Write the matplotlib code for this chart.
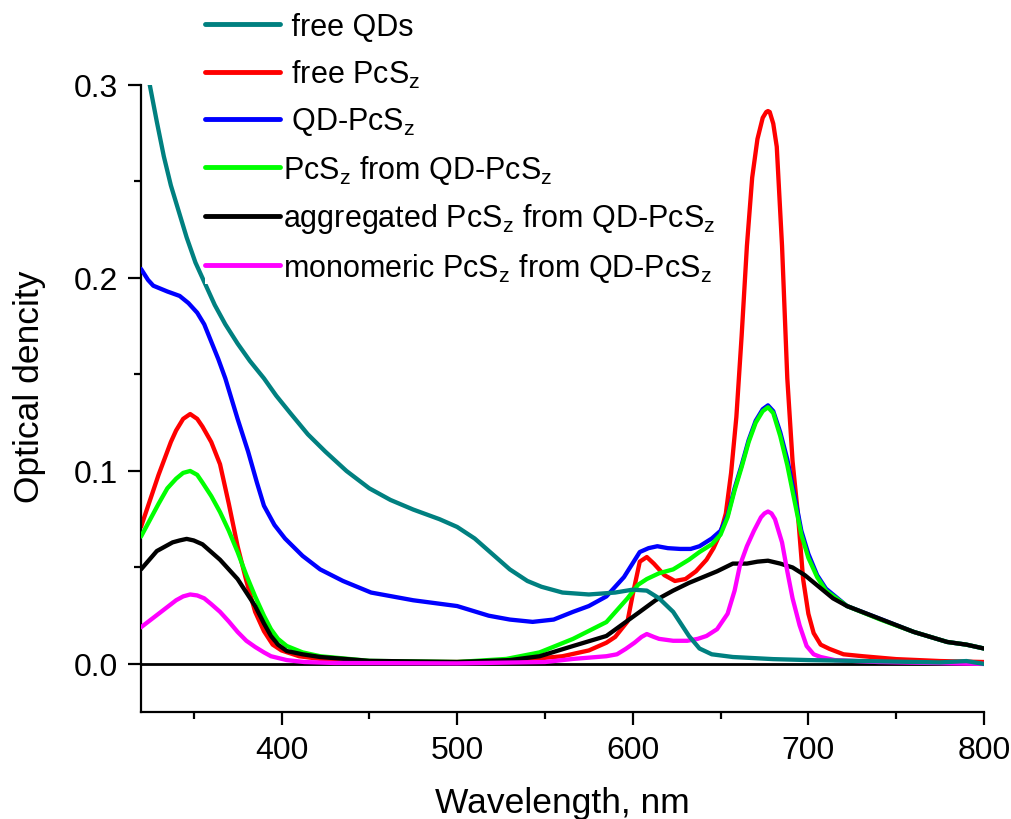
import matplotlib
matplotlib.use("Agg")
import matplotlib.pyplot as plt
from matplotlib.ticker import MultipleLocator

plt.rcParams['font.family'] = ['Liberation Sans', 'DejaVu Sans']
plt.rcParams['mathtext.default'] = 'regular'

# ---- data ----
wl_qd = [320, 325, 329, 333, 337, 342, 346, 351, 357, 362, 368, 375, 382, 390, 397, 405, 415, 425,
         437, 450, 462, 475, 490, 500, 510, 520, 530, 540, 548, 560, 575, 590, 600, 608, 615, 623,
         632, 638, 645, 657, 680, 700, 725, 750, 775, 790, 800]
od_qd = [0.322, 0.300, 0.281, 0.263, 0.248, 0.233, 0.221, 0.208, 0.196, 0.186, 0.176, 0.166, 0.157,
         0.148, 0.139, 0.130, 0.119, 0.110, 0.100, 0.091, 0.085, 0.080, 0.075, 0.071, 0.065, 0.057,
         0.049, 0.043, 0.040, 0.037, 0.036, 0.037, 0.0385, 0.038, 0.034, 0.027, 0.0145, 0.008,
         0.005, 0.0036, 0.0025, 0.002, 0.0016, 0.0012, 0.0008, 0.0015, 0.0]

wl_pcs = [320, 330, 337, 340, 344, 348, 352, 355, 360, 365, 370, 375, 380, 385, 390, 395, 400, 410,
          422, 440, 470, 500, 530, 560, 575, 585, 590, 597, 600, 604, 608, 612, 618, 624, 630, 636,
          642, 646, 650, 653, 656, 659, 662, 665, 668, 671, 674, 676, 677, 678, 680, 682, 685, 688,
          691, 694, 697, 700, 703, 707, 712, 720, 731, 750, 775, 800]
od_pcs = [0.071, 0.098, 0.115, 0.121, 0.127, 0.1295, 0.127, 0.123, 0.115, 0.1035, 0.083, 0.061,
          0.043, 0.027, 0.017, 0.010, 0.007, 0.004, 0.0026, 0.0015, 0.001, 0.001, 0.0015, 0.004,
          0.007, 0.011, 0.014, 0.022, 0.036, 0.053, 0.0554, 0.052, 0.046, 0.043, 0.044, 0.048,
          0.054, 0.060, 0.068, 0.078, 0.099, 0.128, 0.170, 0.2166, 0.252, 0.272, 0.283, 0.286,
          0.2865, 0.286, 0.280, 0.268, 0.2166, 0.148, 0.105, 0.078, 0.044, 0.026, 0.016, 0.010,
          0.0078, 0.005, 0.004, 0.0025, 0.0015, 0.001]

wl_qdpcs = [320, 324, 327, 335, 342, 347, 352, 356, 360, 364, 368, 375, 381, 386, 390, 396, 402, 412,
            422, 435, 451, 475, 500, 518, 530, 543, 555, 566, 575, 585, 595, 604, 609, 614, 620, 627,
            633, 638, 645, 650, 654, 658, 662, 666, 670, 674, 677, 680, 684, 688, 692, 696, 700, 705,
            710, 722, 741, 760, 779, 790, 800]
od_qdpcs = [0.2047, 0.199, 0.196, 0.193, 0.1907, 0.187, 0.182, 0.176, 0.167, 0.158, 0.148, 0.127,
            0.110, 0.094, 0.082, 0.072, 0.065, 0.056, 0.049, 0.043, 0.037, 0.033, 0.030, 0.025,
            0.023, 0.0218, 0.023, 0.027, 0.030, 0.035, 0.045, 0.058, 0.060, 0.061, 0.060, 0.0596,
            0.0596, 0.061, 0.065, 0.069, 0.077, 0.091, 0.103, 0.116, 0.126, 0.132, 0.134, 0.131,
            0.120, 0.106, 0.088, 0.069, 0.057, 0.046, 0.039, 0.030, 0.0233, 0.0166, 0.0114, 0.010,
            0.008]

wl_from = [320, 330, 335, 340, 344, 348, 352, 355, 360, 365, 370, 375, 380, 385, 390, 394, 398, 403,
           412, 422, 450, 500, 528, 547, 566, 585, 597, 603, 608, 615, 623, 632, 638, 645, 650, 654,
           658, 662, 666, 670, 674, 677, 680, 684, 688, 692, 696, 700, 705, 710, 722, 741, 760, 779,
           790, 800]
od_from = [0.066, 0.083, 0.091, 0.096, 0.099, 0.100, 0.098, 0.094, 0.087, 0.0787, 0.069, 0.058,
           0.046, 0.035, 0.025, 0.018, 0.013, 0.0093, 0.006, 0.004, 0.0016, 0.001, 0.0026, 0.006,
           0.013, 0.0217, 0.034, 0.041, 0.044, 0.047, 0.049, 0.054, 0.058, 0.062, 0.067, 0.076,
           0.090, 0.102, 0.115, 0.125, 0.131, 0.133, 0.130, 0.118, 0.103, 0.085, 0.067, 0.055,
           0.045, 0.038, 0.030, 0.023, 0.0166, 0.0114, 0.010, 0.008]

wl_agg = [320, 329, 334, 338, 342, 346, 350, 355, 360, 365, 370, 375, 380, 385, 390, 394, 398, 403,
          412, 422, 450, 500, 530, 547, 566, 585, 604, 613, 623, 632, 640, 648, 657, 665, 671, 677,
          684, 691, 698, 706, 714, 722, 741, 760, 779, 790, 800]
od_agg = [0.049, 0.0585, 0.061, 0.063, 0.064, 0.0648, 0.064, 0.062, 0.058, 0.054, 0.049, 0.044,
          0.037, 0.030, 0.021, 0.0145, 0.010, 0.0067, 0.005, 0.0036, 0.0016, 0.001, 0.002, 0.004,
          0.0093, 0.0145, 0.027, 0.033, 0.038, 0.042, 0.045, 0.048, 0.052, 0.052, 0.053, 0.0535,
          0.052, 0.050, 0.046, 0.040, 0.034, 0.030, 0.0233, 0.0166, 0.0114, 0.010, 0.008]

wl_mono = [320, 330, 340, 344, 348, 352, 356, 360, 365, 370, 375, 380, 385, 390, 394, 403, 413, 430,
           500, 550, 566, 585, 591, 596, 601, 605, 608, 612, 615, 623, 631, 637, 642, 648, 654, 658,
           661, 665, 669, 673, 675, 677, 679, 681, 685, 688, 691, 695, 699, 703, 707, 715, 740, 800]
od_mono = [0.019, 0.026, 0.033, 0.035, 0.036, 0.0355, 0.034, 0.031, 0.027, 0.022, 0.0166, 0.012,
           0.0088, 0.006, 0.004, 0.002, 0.001, 0.0005, 0.0003, 0.001, 0.0026, 0.004, 0.005, 0.0078,
           0.011, 0.014, 0.0155, 0.014, 0.013, 0.012, 0.012, 0.013, 0.0145, 0.018, 0.026, 0.038,
           0.051, 0.061, 0.069, 0.076, 0.078, 0.079, 0.078, 0.075, 0.063, 0.048, 0.034, 0.020,
           0.0093, 0.005, 0.0036, 0.002, 0.001, 0.0]

labels = [' free QDs', ' free PcS$_{z}$', ' QD-PcS$_{z}$', 'PcS$_{z}$ from QD-PcS$_{z}$',
          'aggregated PcS$_{z}$ from QD-PcS$_{z}$', 'monomeric PcS$_{z}$ from QD-PcS$_{z}$']
colors = ['#008080', '#ff0000', '#0000ff', '#00ff00', '#000000', '#ff00ff']

# ---- figure ----
fig = plt.figure(figsize=(10.12, 8.2), dpi=100)
ax = fig.add_axes([141 / 1012, 1 - 713 / 820, (984 - 141) / 1012, (713 - 86) / 820])

ax.axhline(0, color='black', lw=2.0, zorder=1)

lw = 3.1
kw = dict(lw=lw, solid_joinstyle='round', solid_capstyle='round')
h_pcs, = ax.plot(wl_pcs, od_pcs, color=colors[1], zorder=2, **kw)
h_qdpcs, = ax.plot(wl_qdpcs, od_qdpcs, color=colors[2], zorder=3, **kw)
h_from, = ax.plot(wl_from, od_from, color=colors[3], zorder=4, **kw)
h_agg, = ax.plot(wl_agg, od_agg, color=colors[4], zorder=5, **kw)
h_mono, = ax.plot(wl_mono, od_mono, color=colors[5], zorder=6, **kw)
h_qd, = ax.plot(wl_qd, od_qd, color=colors[0], zorder=7, **kw)

ax.set_xlim(320, 800)
ax.set_ylim(-0.0249, 0.3)

for s in ['top', 'right']:
    ax.spines[s].set_visible(False)
for s in ['left', 'bottom']:
    ax.spines[s].set_linewidth(1.6)

ax.xaxis.set_major_locator(MultipleLocator(100))
ax.xaxis.set_minor_locator(MultipleLocator(50))
ax.yaxis.set_minor_locator(MultipleLocator(0.05))
ax.set_yticks([0.0, 0.1, 0.2, 0.3])
ax.set_yticklabels(['0.0', '0.1', '0.2', '0.3'])
ax.tick_params(which='major', direction='out', length=9.5, width=1.6, labelsize=23, pad=7)
ax.tick_params(which='minor', direction='out', length=5, width=1.6)

ax.set_xlabel('Wavelength, nm', fontsize=25.5, labelpad=15)
ax.set_ylabel('Optical dencity', fontsize=25.5)
ax.yaxis.set_label_coords(-0.113, 0.52)

leg = ax.legend([h_qd, h_pcs, h_qdpcs, h_from, h_agg, h_mono], labels,
                loc='upper left', bbox_to_anchor=(205 / 1012, 1 - 13 / 820),
                bbox_transform=fig.transFigure, fontsize=22, frameon=True,
                facecolor='white', edgecolor='none', framealpha=1, fancybox=False,
                borderpad=0.0, borderaxespad=0.0, handlelength=2.45, handletextpad=0.1,
                labelspacing=0.51)
leg.set_zorder(10)
for l in leg.get_lines():
    l.set_linewidth(3.5)

fig.savefig('out.png', dpi=100)
